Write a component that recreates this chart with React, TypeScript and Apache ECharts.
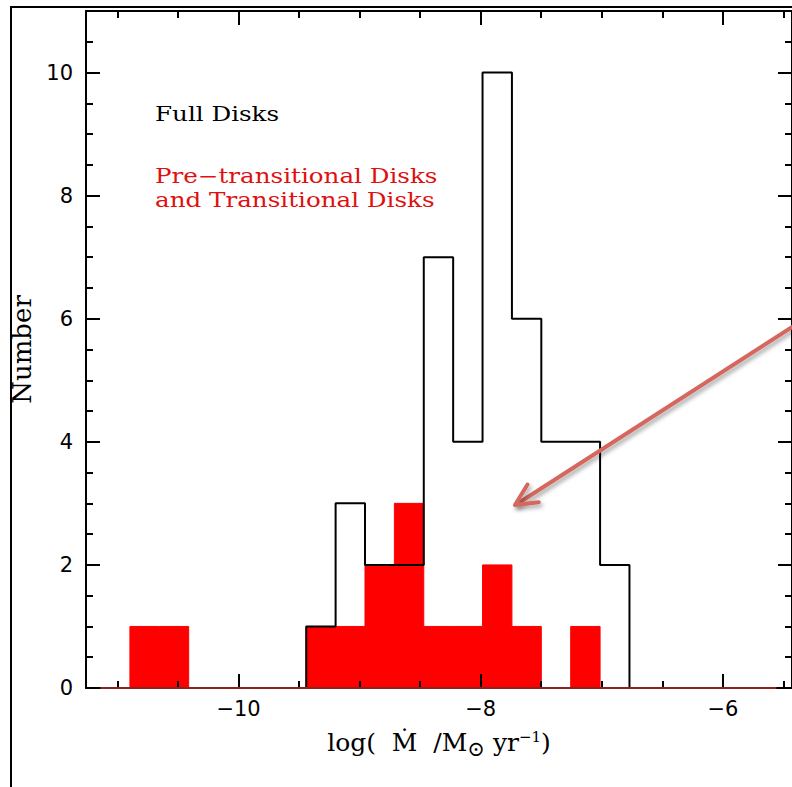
import React, { useEffect, useRef } from "react";
import * as echarts from "echarts";

// ---- data ----
const binStart = -11.14; // left edge of first bin (log Mdot)
const binWidth = 0.2427; // bin width (dex)
// counts per bin, left to right
const fullDisks = [0, 0, 0, 0, 0, 0, 0, 1, 3, 2, 2, 7, 4, 10, 6, 4, 4, 2, 0, 0, 0, 0, 0];
const transitionalDisks = [0, 1, 1, 0, 0, 0, 0, 1, 1, 2, 3, 1, 1, 2, 1, 0, 1, 0, 0, 0, 0, 0, 0];

const xMajorTicks = [-10, -8, -6];
const xMinorTicks = [-11, -10.5, -9.5, -9, -8.5, -7.5, -7, -6.5, -5.5];
const yMajorTicks = [0, 2, 4, 6, 8, 10];
const yMinorTicks = [0.5, 1, 1.5, 2.5, 3, 3.5, 4.5, 5, 5.5, 6.5, 7, 7.5, 8.5, 9, 9.5, 10.5];

const xRange = [-11.26, -5.429];
const yRange = [0, 11];

const binEnd = binStart + binWidth * fullDisks.length;

function stepPoints(counts: number[]): number[][] {
  const pts: number[][] = [[binStart, 0]];
  counts.forEach((c, i) => {
    const l = binStart + i * binWidth;
    pts.push([l, c], [l + binWidth, c]);
  });
  pts.push([binEnd, 0]);
  return pts;
}

const AXIS_COLOR = "#000";
const fmtMinus = (v: number) => String(v).replace("-", "\u2212");

function xAxisDef(position: "top" | "bottom", major: boolean, withLabels: boolean) {
  return {
    type: "value",
    position,
    min: xRange[0],
    max: xRange[1],
    z: 3,
    axisLine: { show: major, onZero: false, lineStyle: { color: AXIS_COLOR, width: 2 } },
    axisTick: {
      show: true,
      inside: true,
      length: major ? 14 : 7,
      customValues: major ? xMajorTicks : xMinorTicks,
      lineStyle: { color: AXIS_COLOR, width: 2 },
    },
    axisLabel: withLabels
      ? {
          show: true,
          customValues: xMajorTicks,
          formatter: fmtMinus,
          color: "#000",
          fontFamily: "DejaVu Sans",
          fontSize: 21,
          margin: 10,
        }
      : { show: false },
    splitLine: { show: false },
  };
}

function yAxisDef(position: "left" | "right", major: boolean, withLabels: boolean) {
  return {
    type: "value",
    position,
    min: yRange[0],
    max: yRange[1],
    z: 3,
    axisLine: { show: major, onZero: false, lineStyle: { color: AXIS_COLOR, width: 2 } },
    axisTick: {
      show: true,
      inside: true,
      length: major ? 14 : 7,
      customValues: major ? yMajorTicks : yMinorTicks,
      lineStyle: { color: AXIS_COLOR, width: 2 },
    },
    axisLabel: withLabels
      ? {
          show: true,
          customValues: yMajorTicks,
          color: "#000",
          fontFamily: "DejaVu Sans",
          fontSize: 21,
          margin: 13,
        }
      : { show: false },
    splitLine: { show: false },
  };
}

export default function App() {
  const ref = useRef<HTMLDivElement>(null);

  useEffect(() => {
    if (!ref.current) return;
    const chart = echarts.init(ref.current, undefined, { renderer: "svg" });

    const xBottom: any = xAxisDef("bottom", true, true);
    xBottom.name = "log(  \u1E40  /M{sub|\u2299} yr{sup|\u22121})";
    xBottom.nameLocation = "middle";
    xBottom.nameGap = 38;
    xBottom.nameTextStyle = {
      fontFamily: "DejaVu Serif",
      fontSize: 25,
      color: "#000",
      rich: {
        sub: { fontFamily: "DejaVu Serif", fontSize: 21, color: "#000", padding: [12, 0, 0, 0] },
        sup: { fontFamily: "DejaVu Serif", fontSize: 15, color: "#000", padding: [0, 0, 12, 0] },
      },
    };

    const yLeft: any = yAxisDef("left", true, true);
    yLeft.name = "Number";
    yLeft.nameLocation = "middle";
    yLeft.nameGap = 50;
    yLeft.nameTextStyle = { fontFamily: "DejaVu Serif", fontSize: 26, color: "#000" };

    const arrowColor = "#d4675f";
    const arrowShadow = {
      shadowBlur: 4,
      shadowColor: "rgba(0,0,0,0.35)",
      shadowOffsetX: 2,
      shadowOffsetY: 3,
    };
    const noteFont = "20.5px 'DejaVu Serif'";
    const noteScale = 1.2;

    chart.setOption({
      animation: false,
      backgroundColor: "#fff",
      grid: { left: 86, top: 11, right: -1, bottom: 99, containLabel: false },
      xAxis: [
        xBottom,
        xAxisDef("bottom", false, false),
        xAxisDef("top", true, false),
        xAxisDef("top", false, false),
      ],
      yAxis: [
        yLeft,
        yAxisDef("left", false, false),
        yAxisDef("right", true, false),
        yAxisDef("right", false, false),
      ],
      series: [
        {
          name: "Pre-transitional and Transitional Disks",
          type: "line",
          xAxisIndex: 0,
          yAxisIndex: 0,
          data: stepPoints(transitionalDisks),
          symbol: "none",
          lineStyle: { color: "#ff0000", width: 1 },
          areaStyle: { color: "#ff0000", opacity: 1 },
          z: 1,
        },
        {
          name: "Full Disks",
          type: "line",
          xAxisIndex: 0,
          yAxisIndex: 0,
          data: stepPoints(fullDisks),
          symbol: "none",
          lineStyle: { color: "#000", width: 2 },
          z: 2,
        },
        {
          name: "baseline",
          type: "line",
          xAxisIndex: 0,
          yAxisIndex: 0,
          data: [
            [binStart, 0],
            [binEnd, 0],
          ],
          symbol: "none",
          lineStyle: { color: "#8e2020", width: 2 },
          z: 4,
        },
      ],
      graphic: [
        {
          type: "rect",
          shape: { x: 11, y: 7, width: 900, height: 900 },
          style: { fill: "none", stroke: "#000", lineWidth: 2 },
          z: 10,
        },
        {
          type: "text",
          x: 155,
          y: 114,
          scaleX: noteScale,
          style: { text: "Full Disks", fill: "#000", font: noteFont, verticalAlign: "middle" },
          z: 10,
        },
        {
          type: "text",
          x: 155,
          y: 176,
          scaleX: noteScale,
          style: {
            text: "Pre\u2212transitional Disks",
            fill: "#e01010",
            font: noteFont,
            verticalAlign: "middle",
          },
          z: 10,
        },
        {
          type: "text",
          x: 155,
          y: 200,
          scaleX: noteScale,
          style: {
            text: "and Transitional Disks",
            fill: "#e01010",
            font: noteFont,
            verticalAlign: "middle",
          },
          z: 10,
        },
        {
          type: "line",
          shape: { x1: 517, y1: 504, x2: 800, y2: 322 },
          style: { stroke: arrowColor, lineWidth: 4, lineCap: "round", ...arrowShadow },
          z: 10,
        },
        {
          type: "polyline",
          shape: {
            points: [
              [527.5, 484.5],
              [515, 505],
              [538.8, 502.2],
            ],
          },
          style: {
            stroke: arrowColor,
            lineWidth: 4,
            fill: "none",
            lineCap: "round",
            lineJoin: "round",
            ...arrowShadow,
          },
          z: 10,
        },
      ],
    });

    return () => chart.dispose();
  }, []);

  return (
    <div
      ref={ref}
      style={{ position: "fixed", left: 0, top: 0, width: 792, height: 787, background: "#fff" }}
    />
  );
}
